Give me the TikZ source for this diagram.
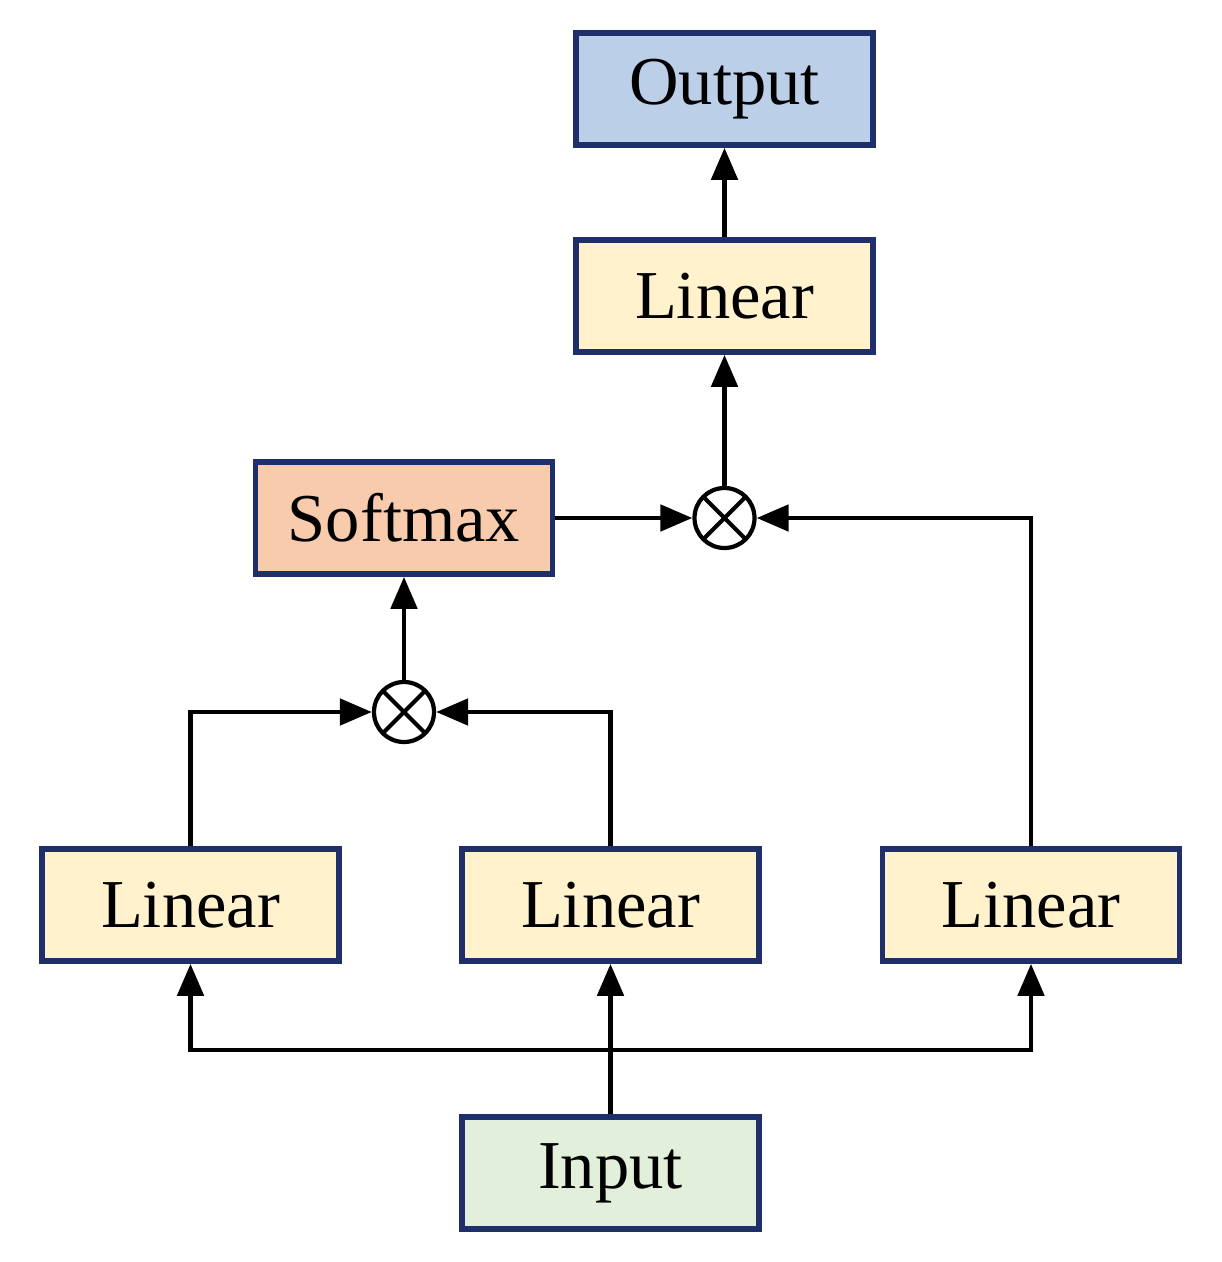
\documentclass[tikz,border=0pt]{standalone}
\usepackage{fontspec}
\setmainfont{Liberation Serif}
\usetikzlibrary{arrows.meta, positioning}
\definecolor{boxline}{HTML}{1F2F6B}
\definecolor{outfill}{HTML}{BBCFE8}
\definecolor{linfill}{HTML}{FFF2CC}
\definecolor{softfill}{HTML}{F8CBAD}
\definecolor{infill}{HTML}{E2EFDA}
\begin{document}
\begin{tikzpicture}[->, >={Triangle[length=0.32cm,width=0.26cm]}, line width=1.4pt]
    \tikzset{block/.style = {draw=boxline, line width=1.6pt, minimum width=2.97cm, minimum height=1.12cm, text centered, font=\fontsize{19.5}{23}\selectfont},
             mult/.style = {draw, circle, line width=1.2pt, minimum size=0.6cm, inner sep=0pt, path picture={\draw[-] (path picture bounding box.north west) -- (path picture bounding box.south east) (path picture bounding box.north east) -- (path picture bounding box.south west);}}}
    \useasboundingbox (0,0) rectangle (12.22,-12.62);
    \node [block, fill=outfill] at (7.245,-0.89) (output) {Output};
    \node [block, fill=linfill] at (7.245,-2.96) (lintop) {Linear};
    \node [block, fill=softfill] at (4.04,-5.18) (softmax) {Softmax};
    \node [mult] at (7.245,-5.18) (multtop) {};
    \node [mult] at (4.04,-7.12) (multbot) {};
    \node [block, fill=linfill] at (1.905,-9.05) (linq) {Linear};
    \node [block, fill=linfill] at (6.105,-9.05) (link) {Linear};
    \node [block, fill=linfill] at (10.31,-9.05) (linv) {Linear};
    \node [block, fill=infill] at (6.105,-11.73) (input) {Input};
    \coordinate (split) at (6.105,-10.5);
    % input to the three projections
    \draw (input) -- (link);
    \draw (split) -| (linq);
    \draw (split) -| (linv);
    % attention scores
    \draw (linq) |- (multbot);
    \draw (link) |- (multbot);
    \draw (multbot) -- (softmax);
    % weighted sum
    \draw (softmax) -- (multtop);
    \draw (linv) |- (multtop);
    \draw (multtop) -- (lintop);
    \draw (lintop) -- (output);
\end{tikzpicture}
\end{document}
